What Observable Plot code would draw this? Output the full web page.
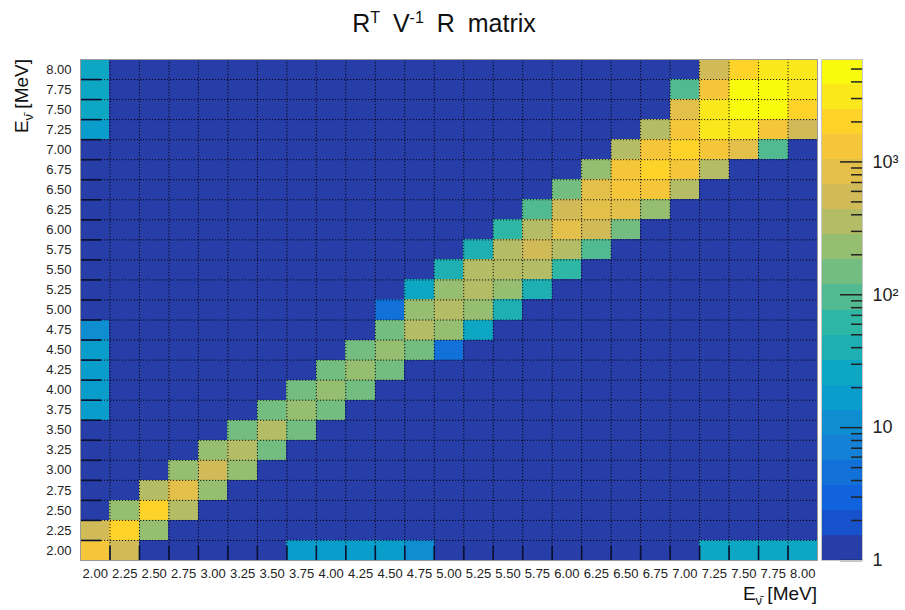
<!DOCTYPE html>
<html>
<head>
<meta charset="utf-8">
<script src="https://cdn.jsdelivr.net/npm/d3@7"></script>
<script src="https://cdn.jsdelivr.net/npm/@observablehq/plot@0.6"></script>
<style>
  body { margin: 0; background: #fff; font-family: "Liberation Sans", Arial, Helvetica, sans-serif; }
  #wrap { position: relative; width: 905px; height: 610px; overflow: hidden; background: #fff; }
  #wrap svg { position: absolute; top: 0; }
  #title { position: absolute; left: 0; width: 888px; top: 11px; text-align: center; font-size: 25px; line-height: 1; color: #111; word-spacing: 6px; }
  #title sup { font-size: 16px; vertical-align: baseline; position: relative; top: -9px; }
  .atitle { position: absolute; font-size: 19px; line-height: 1; color: #111; white-space: nowrap; }
  .atitle sub { font-size: 13px; vertical-align: baseline; position: relative; top: 5px; }
  #xtitle { right: 88px; top: 584px; text-align: right; }
  #ytitle { left: 0; top: 0; width: 100px; text-align: right; transform-origin: left top; transform: translate(12px, 159px) rotate(-90deg); }
</style>
</head>
<body>
<div id="wrap">
  <div id="title">R<sup>T</sup> V<sup>-1</sup> R matrix</div>
  <div class="atitle" id="xtitle">E<sub>ν̄</sub> [MeV]</div>
  <div class="atitle" id="ytitle">E<sub>ν̄</sub> [MeV]</div>
</div>
<script>
// ---------- data ----------
const energyLabels = ["2.00","2.25","2.50","2.75","3.00","3.25","3.50","3.75","4.00","4.25","4.50","4.75","5.00",
                      "5.25","5.50","5.75","6.00","6.25","6.50","6.75","7.00","7.25","7.50","7.75","8.00"];
const binCenters = [2.00,2.25,2.50,2.75,3.00,3.25,3.50,3.75,4.00,4.25,4.50,4.75,5.00,
                    5.25,5.50,5.75,6.00,6.25,6.50,6.75,7.00,7.25,7.50,7.75,8.00];
const binEdges = [2.125,2.375,2.625,2.875,3.125,3.375,3.625,3.875,4.125,4.375,4.625,4.875,
                  5.125,5.375,5.625,5.875,6.125,6.375,6.625,6.875,7.125,7.375,7.625,7.875];

// z values; one array per y bin (first = 2.00 MeV, last = 8.00 MeV), columns x = 2.00 ... 8.00
const zRows = [
  [1300,540,1,1,1,     1,1,17,18,17,      16,11,1,1,1,        1,1,1,1,1,          1,26,27,26,25],      // 2.00
  [540,2000,230,1,1,   1,1,1,1,1,         1,1,1,1,1,          1,1,1,1,1,          1,1,1,1,1],          // 2.25
  [1,230,2100,350,1,   1,1,1,1,1,         1,1,1,1,1,          1,1,1,1,1,          1,1,1,1,1],          // 2.50
  [1,1,350,840,230,    1,1,1,1,1,         1,1,1,1,1,          1,1,1,1,1,          1,1,1,1,1],          // 2.75
  [1,1,1,230,540,      230,1,1,1,1,       1,1,1,1,1,          1,1,1,1,1,          1,1,1,1,1],          // 3.00
  [1,1,1,1,230,        350,150,1,1,1,     1,1,1,1,1,          1,1,1,1,1,          1,1,1,1,1],          // 3.25
  [1,1,1,1,1,          150,350,150,1,1,   1,1,1,1,1,          1,1,1,1,1,          1,1,1,1,1],          // 3.50
  [17,1,1,1,1,         1,150,230,150,1,   1,1,1,1,1,          1,1,1,1,1,          1,1,1,1,1],          // 3.75
  [17,1,1,1,1,         1,1,150,230,150,   1,1,1,1,1,          1,1,1,1,1,          1,1,1,1,1],          // 4.00
  [17,1,1,1,1,         1,1,1,150,230,     150,1,1,1,1,        1,1,1,1,1,          1,1,1,1,1],          // 4.25
  [18,1,1,1,1,         1,1,1,1,150,       230,150,4.5,1,1,    1,1,1,1,1,          1,1,1,1,1],          // 4.50
  [11,1,1,1,1,         1,1,1,1,1,         150,350,230,26,1,   1,1,1,1,1,          1,1,1,1,1],          // 4.75
  [1,1,1,1,1,          1,1,1,1,1,         4.5,230,350,230,40, 1,1,1,1,1,          1,1,1,1,1],          // 5.00
  [1,1,1,1,1,          1,1,1,1,1,         1,26,230,350,230,   40,1,1,1,1,         1,1,1,1,1],          // 5.25
  [1,1,1,1,1,          1,1,1,1,1,         1,1,40,350,360,     350,62,1,1,1,       1,1,1,1,1],          // 5.50
  [1,1,1,1,1,          1,1,1,1,1,         1,1,1,40,350,       540,350,95,1,1,     1,1,1,1,1],          // 5.75
  [1,1,1,1,1,          1,1,1,1,1,         1,1,1,1,62,         350,840,540,150,1,  1,1,1,1,1],          // 6.00
  [1,1,1,1,1,          1,1,1,1,1,         1,1,1,1,1,          95,540,840,860,230, 1,1,1,1,1],          // 6.25
  [1,1,1,1,1,          1,1,1,1,1,         1,1,1,1,1,          1,150,840,1300,1300, 350,1,1,1,1],       // 6.50
  [1,1,1,1,1,          1,1,1,1,1,         1,1,1,1,1,          1,1,230,1300,2000,  1300,350,1,1,1],     // 6.75
  [1,1,1,1,1,          1,1,1,1,1,         1,1,1,1,1,          1,1,1,350,1300,     2000,1300,840,95,1], // 7.00
  [17,1,1,1,1,         1,1,1,1,1,         1,1,1,1,1,          1,1,1,1,350,        1300,3100,3000,1300,540], // 7.25
  [26,1,1,1,1,         1,1,1,1,1,         1,1,1,1,1,          1,1,1,1,1,          840,3100,4800,4700,2000], // 7.50
  [26,1,1,1,1,         1,1,1,1,1,         1,1,1,1,1,          1,1,1,1,1,          95,1300,4900,4800,3100],  // 7.75
  [26,1,1,1,1,         1,1,1,1,1,         1,1,1,1,1,          1,1,1,1,1,          1,540,2000,3100,3000]     // 8.00
];

const zMin = 1;
const zMax = 5900;
const colorbarMajor = [1, 10, 100, 1000];
const colorbarMajorLabels = ["1", "10", "10²", "10³"];
const colorbarMinor = [2,3,4,5,6,7,8,9, 20,30,40,50,60,70,80,90, 200,300,400,500,600,700,800,900, 2000,3000,4000,5000];

// ---------- ROOT kBird palette, 20 contour levels ----------
const birdStops = [0.0000, 0.1250, 0.2500, 0.3750, 0.5000, 0.6250, 0.7500, 0.8750, 1.0000];
const birdR = [0.2082, 0.0592, 0.0780, 0.0232, 0.1802, 0.5301, 0.8186, 0.9956, 0.9764];
const birdG = [0.1664, 0.3599, 0.5041, 0.6419, 0.7178, 0.7492, 0.7328, 0.7862, 0.9832];
const birdB = [0.5293, 0.8684, 0.8385, 0.7914, 0.6425, 0.4662, 0.3499, 0.1968, 0.0539];
function bird(p) {
  let s = 0;
  while (s < birdStops.length - 2 && p > birdStops[s + 1]) s++;
  const t = (p - birdStops[s]) / (birdStops[s + 1] - birdStops[s]);
  const c = arr => Math.round(255 * (arr[s] + t * (arr[s + 1] - arr[s])));
  return `rgb(${c(birdR)},${c(birdG)},${c(birdB)})`;
}
const nLevels = 20;
const levelColors = d3.range(nLevels).map(k => bird(Math.floor((k + 0.99) * 255 / nLevels) / 254));
const levelBounds = d3.range(nLevels + 1).map(k => zMin * Math.pow(zMax / zMin, k / nLevels));
const colorScale = { type: "threshold", domain: levelBounds.slice(1, nLevels), range: levelColors };

// ---------- build cells ----------
const half = (binCenters[1] - binCenters[0]) / 2;
const cells = [];
zRows.forEach((row, j) => row.forEach((v, i) => cells.push({ x: binCenters[i], y: binCenters[j], v })));
const fmt = d => energyLabels[binCenters.indexOf(d)];

const W = 905, H = 610, mL = 80, mR = 88, mT = 59, mB = 50;
const frameW = W - mL - mR, frameH = H - mT - mB;

const main = Plot.plot({
  width: W, height: H,
  marginLeft: mL, marginRight: mR, marginTop: mT, marginBottom: mB,
  style: { fontFamily: "'Liberation Sans', Arial, Helvetica, sans-serif", color: "#222", background: "transparent", overflow: "visible" },
  x: { type: "linear", domain: [binCenters[0] - half, binCenters[binCenters.length - 1] + half], label: null },
  y: { type: "linear", domain: [binCenters[0] - half, binCenters[binCenters.length - 1] + half], label: null },
  color: colorScale,
  marks: [
    Plot.rect(cells, { x1: d => d.x - half, x2: d => d.x + half, y1: d => d.y - half, y2: d => d.y + half, fill: "v", shapeRendering: "crispEdges" }),
    Plot.gridX(binEdges, { stroke: "#000", strokeOpacity: 0.9, strokeWidth: 1, strokeDasharray: "1.2,1.8" }),
    Plot.gridY(binEdges, { stroke: "#000", strokeOpacity: 0.9, strokeWidth: 1, strokeDasharray: "1.2,1.8" }),
    Plot.tickX(binEdges, { x: d => d, stroke: "#0b1030", strokeWidth: 1.6, insetTop: frameH - 14 }),
    Plot.tickY(binEdges, { y: d => d, stroke: "#0b1030", strokeWidth: 1.6, insetRight: frameW - 21 }),
    Plot.axisX(binCenters, { tickSize: 0, tickPadding: 8, tickFormat: fmt, fontSize: 13 }),
    Plot.axisY(binCenters, { tickSize: 0, tickPadding: 9, tickFormat: fmt, fontSize: 13 }),
    Plot.frame({ stroke: "#9a9a9a" })
  ]
});
main.style.left = "0px";
document.getElementById("wrap").appendChild(main);

// ---------- colour bar ----------
const bands = d3.range(nLevels).map(k => ({ lo: levelBounds[k], hi: levelBounds[k + 1], mid: Math.sqrt(levelBounds[k] * levelBounds[k + 1]) }));
const cbW = 88, cbL = 4, cbR = 43;
const cbar = Plot.plot({
  width: cbW, height: H,
  marginLeft: cbL, marginRight: cbR, marginTop: mT, marginBottom: mB,
  style: { fontFamily: "'Liberation Sans', Arial, Helvetica, sans-serif", color: "#222", background: "transparent", overflow: "visible" },
  y: { type: "log", domain: [zMin, zMax] },
  color: colorScale,
  marks: [
    Plot.rect(bands, { y1: "lo", y2: "hi", fill: "mid", shapeRendering: "crispEdges" }),
    Plot.tickY(colorbarMinor, { y: d => d, stroke: "#222", strokeWidth: 1.5, insetLeft: (cbW - cbL - cbR) - 11 }),
    Plot.tickY(colorbarMajor, { y: d => d, stroke: "#222", strokeWidth: 1.5, insetLeft: (cbW - cbL - cbR) - 22 }),
    Plot.axisY(colorbarMajor, { anchor: "right", tickSize: 0, tickPadding: 10, fontSize: 18,
      tickFormat: d => colorbarMajorLabels[colorbarMajor.indexOf(d)] }),
    Plot.frame({ stroke: "#c8c8c8" })
  ]
});
cbar.style.left = (W - mR) + "px";
document.getElementById("wrap").appendChild(cbar);
</script>
</body>
</html>
